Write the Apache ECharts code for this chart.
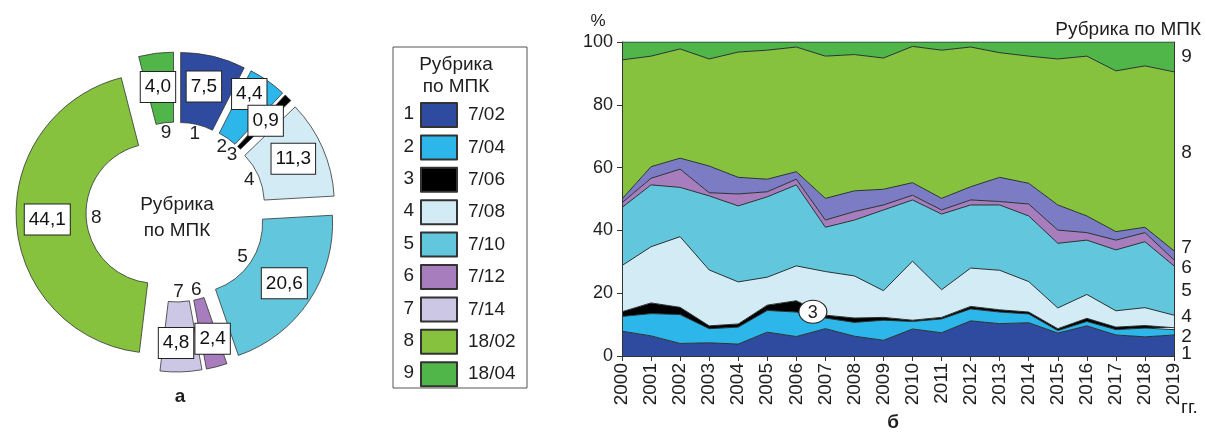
<!DOCTYPE html>
<html><head><meta charset="utf-8">
<script src="https://cdn.jsdelivr.net/npm/echarts@6/dist/echarts.min.js"></script>
<style>html,body{margin:0;padding:0;background:#fff}#c{width:1205px;height:434px}</style>
</head><body><div id="c"></div>
<script>
// ---- data ----
const codes = ['7/02','7/04','7/06','7/08','7/10','7/12','7/14','18/02','18/04'];
const nums = ['1','2','3','4','5','6','7','8','9'];
const shares = [7.5, 4.4, 0.9, 11.3, 20.6, 2.4, 4.8, 44.1, 4.0];
const years = ['2000','2001','2002','2003','2004','2005','2006','2007','2008','2009',
               '2010','2011','2012','2013','2014','2015','2016','2017','2018','2019'];
const s1 = [7.9, 6.4, 4.0, 4.2, 3.8, 7.6, 6.2, 8.7, 6.3, 5.0, 8.6, 7.4, 11.2, 10.3, 10.6, 7.3, 9.6, 6.7, 6.1, 6.7];
const s2 = [4.7, 7.1, 9.2, 4.5, 5.4, 6.9, 7.8, 3.4, 4.4, 6.4, 2.4, 4.4, 3.8, 3.7, 2.8, 0.8, 1.4, 1.7, 2.8, 1.7];
const s3 = [1.5, 3.4, 2.3, 0.9, 1.0, 1.7, 3.6, 0.9, 1.4, 0.9, 0.4, 0.5, 0.8, 0.7, 0.6, 0.6, 1.0, 0.8, 0.8, 0.6];
const s4 = [14.7, 17.9, 22.5, 17.8, 13.4, 8.9, 11.1, 13.9, 13.4, 8.5, 18.8, 8.8, 12.2, 12.6, 9.7, 6.6, 7.6, 5.2, 5.7, 4.0];
const s5 = [18.5, 19.7, 15.7, 23.6, 24.2, 25.6, 25.8, 14.1, 17.8, 25.7, 19.5, 24.1, 20.1, 20.8, 20.9, 20.6, 17.3, 19.4, 21.0, 15.7];
const s6 = [1.5, 2.1, 5.8, 1.0, 3.8, 1.6, 1.8, 2.3, 2.7, 1.6, 1.5, 1.3, 1.6, 1.1, 3.8, 4.2, 2.4, 3.1, 2.9, 1.9];
const s7 = [1.2, 3.7, 3.5, 8.5, 5.3, 4.0, 2.4, 6.9, 6.6, 5.0, 4.0, 3.7, 4.2, 7.7, 6.6, 8.0, 5.3, 2.7, 1.7, 2.9];
const s8 = [44.3, 35.2, 34.8, 34.1, 39.9, 41.1, 39.7, 45.3, 43.4, 41.8, 43.4, 47.2, 44.5, 39.7, 40.5, 46.5, 50.9, 51.2, 51.4, 57.0];
const s9 = [5.7, 4.5, 2.2, 5.4, 3.2, 2.6, 1.6, 4.5, 4.0, 5.1, 1.4, 2.6, 1.6, 3.4, 4.5, 5.4, 4.5, 9.2, 7.6, 9.5];
const series = [s1, s2, s3, s4, s5, s6, s7, s8, s9];
// callout "3" on the 7/06 band (fractional year position, value)
const callout3 = [2006.57, 14.1];

// ---- styles ----
const pieColors  = ['#2f4ba0','#2db6e9','#000000','#d2ebf4','#62c7dc','#a77dbe','#cbc7e4','#86c23d','#50b649'];
const areaColors = ['#2f4ba0','#2db6e9','#000000','#d2ebf4','#62c7dc','#a77dbe','#7c7cc4','#86c23d','#50b649'];
const rightLabelShift = [9, 5, null, -4, 1, 5, -7, -8, 0];
const boxNudge = [[-2, -1], [0, -13], [0, 0], [0, -2], [2, 0], [4, 3], [-4, 3], [-1, -1], [-2, 2]];
const FONT = 'Liberation Sans, Arial, sans-serif';
const TXT = '#1e1e1e';
const PIE_C = [176, 212], PIE_R = [70, 140], PIE_OFF = 20;

const chart = echarts.init(document.getElementById('c'), null, {renderer: 'canvas'});
const fmt = v => v.toFixed(1).replace('.', ',');

// cumulative mid values at last year (for right-side labels)
const last = years.length - 1;
let cum = 0;
const midLast = series.map(s => { const m = cum + s[last] / 2; cum += s[last]; return m; });

const areaSeries = series.map((s, i) => ({
  type: 'line', name: nums[i], stack: 'area', data: s, symbol: 'none', silent: true,
  lineStyle: {width: 0}, itemStyle: {color: areaColors[i]},
  areaStyle: {color: areaColors[i], opacity: 1}, z: 2
}));
const lineSeries = series.map((s, i) => {
  const o = {
    type: 'line', name: 'l' + nums[i], stack: 'line', data: s, symbol: 'none', silent: true,
    lineStyle: {color: '#283232', width: 1}, itemStyle: {color: '#283232'}, z: 3
  };
  if (rightLabelShift[i] !== null) {
    o.markPoint = {silent: true, animation: false, data: [{
      coord: [last, midLast[i]], symbolSize: 1, itemStyle: {color: 'rgba(0,0,0,0)'},
      label: {show: true, position: 'right', distance: 7, offset: [0, rightLabelShift[i]],
        formatter: nums[i], fontSize: 19, color: TXT, fontFamily: FONT}}]};
  }
  return o;
});

// pie labels (value boxes + index numbers), positioned from the shares
const total = shares.reduce((a, b) => a + b, 0);
const pieLabels = [];
let acc = 0;
shares.forEach((v, i) => {
  const mid = (acc + v / 2) / total; acc += v;
  const a = (90 - mid * 360) * Math.PI / 180;
  const dx = Math.cos(a), dy = -Math.sin(a);
  const rBox = PIE_OFF + (PIE_R[0] + PIE_R[1]) / 2 + 3;
  const rNum = PIE_OFF + PIE_R[0] - 10;
  pieLabels.push({type: 'text', z: 100, x: PIE_C[0] + dx * rBox + boxNudge[i][0], y: PIE_C[1] + dy * rBox + boxNudge[i][1],
    style: {text: fmt(v), font: '19px ' + FONT, fill: '#111', align: 'center', verticalAlign: 'middle',
      backgroundColor: '#fff', borderColor: '#222', borderWidth: 1, padding: [6, 4, 5, 4]}});
  pieLabels.push({type: 'text', z: 100, x: PIE_C[0] + dx * rNum, y: PIE_C[1] + dy * rNum,
    style: {text: nums[i], font: '19px ' + FONT, fill: TXT, align: 'center', verticalAlign: 'middle'}});
});

const option = {
  animation: false,
  backgroundColor: '#fff',
  textStyle: {fontFamily: FONT},
  legend: {
    data: codes, orient: 'vertical', left: 415, top: 97, padding: 5,
    itemWidth: 36, itemHeight: 24, itemGap: 6.4, icon: 'rect', selectedMode: false,
    textStyle: {fontSize: 19, color: TXT, fontFamily: FONT, padding: [0, 0, 0, 6]}
  },
  grid: {left: 622, right: 31, top: 42, bottom: 78, show: false},
  xAxis: {
    type: 'category', data: years, boundaryGap: false,
    axisLine: {show: true, onZero: false, lineStyle: {color: '#333', width: 1}},
    axisTick: {show: true, length: 5, interval: 0, lineStyle: {color: '#333'}},
    axisLabel: {rotate: 90, interval: 0, fontSize: 19, color: TXT, margin: 7, fontFamily: FONT},
    splitLine: {show: false}, z: 10
  },
  yAxis: [{
    type: 'value', min: 0, max: 100, interval: 20,
    axisLine: {show: true, lineStyle: {color: '#333', width: 1}},
    axisTick: {show: true, length: 5, lineStyle: {color: '#333'}},
    axisLabel: {fontSize: 18, color: TXT, margin: 9, fontFamily: FONT},
    splitLine: {show: false}, z: 10
  }, {
    type: 'value', min: 0, max: 100, interval: 20, position: 'right',
    axisLine: {show: true, lineStyle: {color: '#333', width: 1}},
    axisTick: {show: false}, axisLabel: {show: false}, splitLine: {show: false}, z: 10
  }],
  series: [
    {
      type: 'pie', name: 'share', center: PIE_C, radius: PIE_R,
      startAngle: 90, clockwise: true, selectedMode: 'multiple', selectedOffset: PIE_OFF,
      avoidLabelOverlap: false, silent: true,
      label: {show: false}, labelLine: {show: false},
      itemStyle: {borderColor: '#333', borderWidth: 0.8},
      emphasis: {disabled: true},
      data: codes.map((c, i) => ({name: c, value: shares[i], selected: true,
        itemStyle: {color: pieColors[i]}, select: {itemStyle: {color: pieColors[i]}}}))
    },
    ...areaSeries,
    ...lineSeries
  ],
  graphic: [
    ...pieLabels,
    {type: 'text', z: 100, x: 177, y: 192, style: {text: 'Рубрика\nпо МПК', font: '19px ' + FONT, lineHeight: 26, fill: TXT, align: 'center'}},
    {type: 'text', z: 100, x: 180, y: 397, style: {text: 'а', font: 'bold 19px ' + FONT, fill: TXT, align: 'center', verticalAlign: 'middle'}},
    {type: 'rect', z: 100, shape: {x: 393, y: 47, width: 134, height: 341}, style: {fill: 'none', stroke: '#555', lineWidth: 1}},
    {type: 'text', z: 100, x: 456, y: 54, style: {text: 'Рубрика\nпо МПК', font: '19px ' + FONT, lineHeight: 22, fill: TXT, align: 'center'}},
    ...nums.map((n, i) => ({type: 'text', z: 100, x: 414, y: 114 + i * 32.4,
      style: {text: n, font: '19px ' + FONT, fill: TXT, align: 'right', verticalAlign: 'middle'}})),
    {type: 'text', z: 100, x: 598, y: 21, style: {text: '%', font: '17px ' + FONT, fill: TXT, align: 'center', verticalAlign: 'middle'}},
    {type: 'text', z: 100, x: 1201, y: 30, style: {text: 'Рубрика по МПК', font: '19px ' + FONT, fill: TXT, align: 'right', verticalAlign: 'middle'}},
    {type: 'text', z: 100, x: 1181, y: 408, style: {text: 'гг.', font: '19px ' + FONT, fill: TXT, align: 'left', verticalAlign: 'middle'}},
    {type: 'text', z: 100, x: 893, y: 423, style: {text: 'б', font: 'bold 19px ' + FONT, fill: TXT, align: 'center', verticalAlign: 'middle'}}
  ]
};
chart.setOption(option);

// "3" callout: interpolate between neighbouring category positions
const ci = callout3[0] - Number(years[0]);
const i0 = Math.floor(ci), f = ci - i0;
const pA = chart.convertToPixel({xAxisIndex: 0, yAxisIndex: 0}, [i0, callout3[1]]);
const pB = chart.convertToPixel({xAxisIndex: 0, yAxisIndex: 0}, [i0 + 1, callout3[1]]);
const cx = pA[0] + (pB[0] - pA[0]) * f, cy = pA[1];
chart.setOption({graphic: [
  {id: 'c3e', type: 'ellipse', z: 100, shape: {cx: cx, cy: cy, rx: 14, ry: 11.5},
    style: {fill: '#fff', stroke: '#222', lineWidth: 1.2}},
  {id: 'c3t', type: 'text', z: 101, x: cx, y: cy + 1,
    style: {text: nums[2], font: '18px ' + FONT, fill: TXT, align: 'center', verticalAlign: 'middle'}}
]});
</script>
</body></html>
